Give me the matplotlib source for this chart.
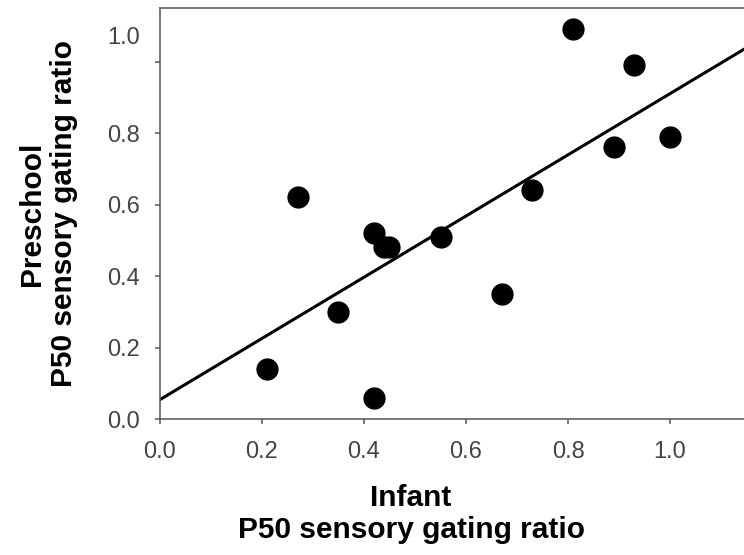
import numpy as np
import matplotlib
matplotlib.use("Agg")
import matplotlib.pyplot as plt

plt.rcParams['font.family'] = ['Liberation Sans', 'DejaVu Sans']

# infant vs preschool P50 ratios
infant = [0.21, 0.27, 0.35, 0.42, 0.44, 0.45, 0.42, 0.55, 0.67, 0.73, 0.81, 0.89, 0.93, 1.00]
preschool = [0.14, 0.62, 0.30, 0.52, 0.48, 0.48, 0.06, 0.51, 0.35, 0.64, 1.09, 0.76, 0.99, 0.79]

x_ticks = [0.0, 0.2, 0.4, 0.6, 0.8, 1.0]
y_ticks = [0.0, 0.2, 0.4, 0.6, 0.8, 1.0]

fig = plt.figure(figsize=(7.44, 5.55), dpi=100)
ax = fig.add_axes([0.215, 0.245, 0.785, 0.7405])

# regression line
slope, icpt = np.polyfit(infant, preschool, 1)
xx = np.array([0.0, 1.15])
ax.plot(xx, icpt + slope * xx, color='black', lw=2.2, zorder=2)

ax.plot(infant, preschool, 'o', color='black', ms=15, zorder=3)

ax.set_xlim(0, 1.145)
ax.set_ylim(0, 1.15)
ax.set_xticks(x_ticks)
ax.set_xticklabels([f"{v:.1f}" for v in x_ticks])
ax.set_yticks(y_ticks)
# the 1.0 label sits higher than its tick in the original
ax.set_yticklabels([f"{v:.1f}" for v in y_ticks[:-1]] + [''])
ax.annotate('1.0', xy=(0, 1.0), xycoords=ax.get_yaxis_transform(),
            xytext=(-14.5, 17), textcoords='offset points',
            ha='right', va='center', fontsize=17, color='#444444')

ax.spines['right'].set_visible(False)
for s in ['left', 'bottom', 'top']:
    ax.spines[s].set_color('#555555')
    ax.spines[s].set_linewidth(1.1)
ax.tick_params(direction='out', length=3.6, width=1.1, color='#555555',
               labelsize=17, labelcolor='#444444')
ax.tick_params(axis='y', pad=11)
ax.tick_params(axis='x', pad=12)

ax.set_xlabel('Infant\nP50 sensory gating ratio', fontsize=21.5, fontweight='bold',
              linespacing=1.2)
ax.xaxis.set_label_coords(0.43, -0.157, transform=ax.transAxes)
ax.xaxis.label.set_va('top')
ax.set_ylabel('Preschool\nP50 sensory gating ratio', fontsize=21.5, fontweight='bold',
              linespacing=1.2)
ax.yaxis.set_label_coords(-0.14, 0.5, transform=ax.transAxes)

fig.savefig('out.png', dpi=100)
